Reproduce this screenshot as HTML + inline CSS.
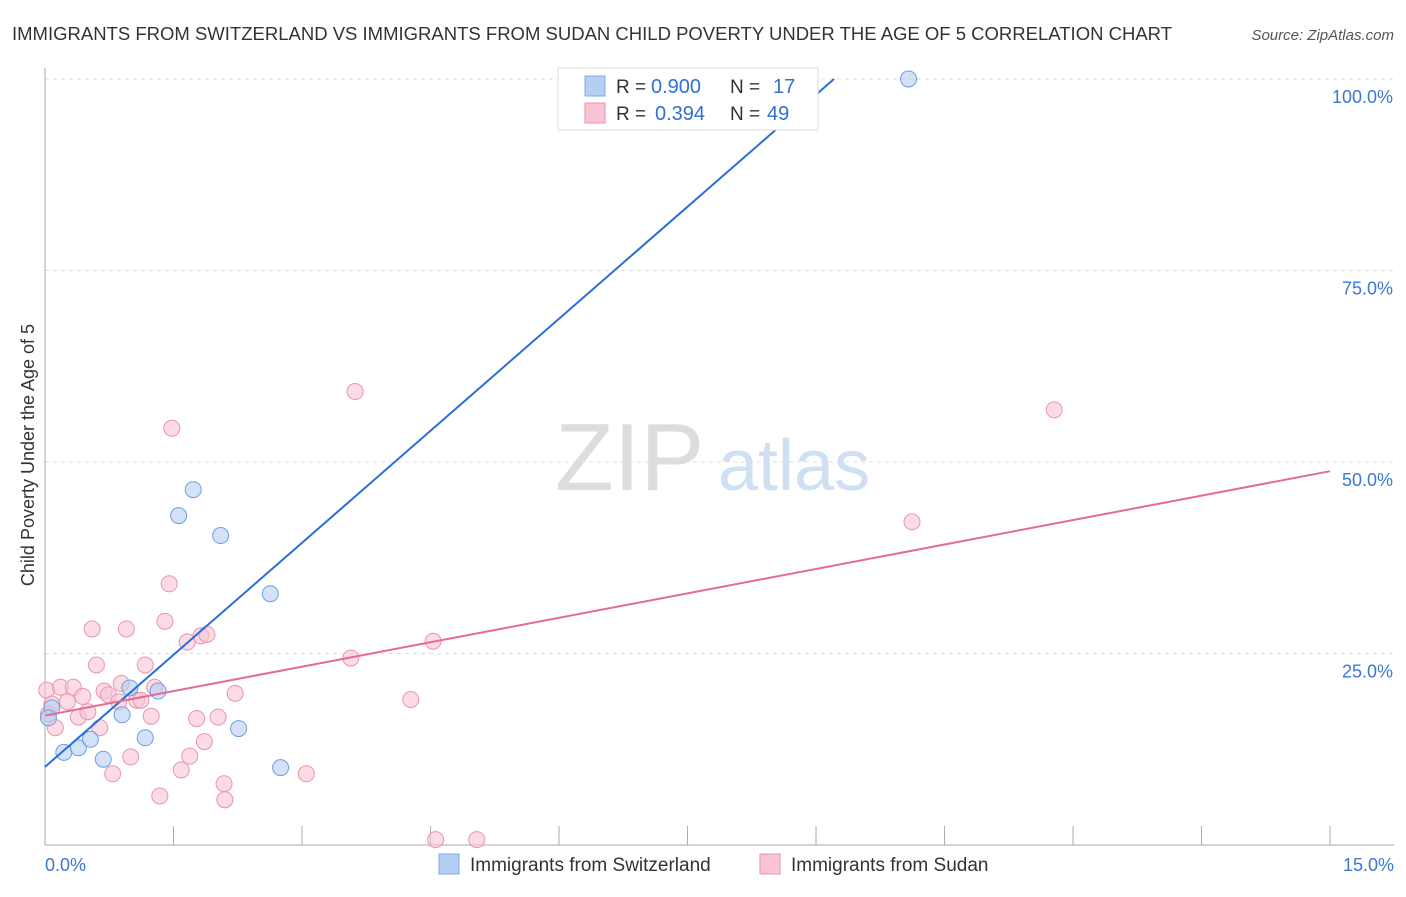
<!DOCTYPE html>
<html><head><meta charset="utf-8"><style>
body{margin:0;background:#fff;font-family:"Liberation Sans",sans-serif;}
svg text{font-family:"Liberation Sans",sans-serif;}
</style></head><body>
<svg width="1406" height="892">
<text x="12" y="40" font-size="18" fill="#333" textLength="1160" lengthAdjust="spacingAndGlyphs">IMMIGRANTS FROM SWITZERLAND VS IMMIGRANTS FROM SUDAN CHILD POVERTY UNDER THE AGE OF 5 CORRELATION CHART</text>
<text x="1394" y="40" font-size="15" fill="#555" font-style="italic" text-anchor="end">Source: ZipAtlas.com</text>
<text x="555" y="490" font-size="96" fill="#ddd" font-family="Liberation Serif">ZIP</text>
<text x="718" y="490" font-size="72" fill="#cfe0f3">atlas</text>
<g id="grid"></g>
<g id="axes"></g>
<text transform="translate(34,455) rotate(-90)" font-size="18" fill="#333" text-anchor="middle">Child Poverty Under the Age of 5</text>
<g id="marks"></g>
<g>
<rect x="558" y="68" width="260" height="62" fill="#fff" stroke="#ddd"/>
<rect x="585" y="76" width="20" height="20" fill="#b5cff2" stroke="#7fa9e3"/>
<rect x="585" y="103" width="20" height="20" fill="#f9c4d4" stroke="#eb93b0"/>
<text x="616" y="93" font-size="19" fill="#333">R =</text>
<text x="651" y="93" font-size="20" fill="#2f6fd6">0.900</text>
<text x="730" y="93" font-size="19" fill="#333">N =</text>
<text x="773" y="93" font-size="20" fill="#2f6fd6">17</text>
<text x="616" y="120" font-size="19" fill="#333">R =</text>
<text x="655" y="120" font-size="20" fill="#2f6fd6">0.394</text>
<text x="730" y="120" font-size="19" fill="#333">N =</text>
<text x="767" y="120" font-size="20" fill="#2f6fd6">49</text>
</g>
<g>
<rect x="439" y="854" width="20" height="20" fill="#b5cff2" stroke="#7fa9e3"/>
<text x="470" y="871" font-size="19" fill="#333">Immigrants from Switzerland</text>
<rect x="760" y="854" width="20" height="20" fill="#f9c4d4" stroke="#eb93b0"/>
<text x="791" y="871" font-size="19" fill="#333">Immigrants from Sudan</text>
</g>
</svg>
<script>
const yTicks=[25,50,75,100];
const xTickCount=10;
const blueX=[0.08,0.22,0.39,0.53,0.68,0.9,0.99,1.17,1.32,1.56,1.73,2.05,2.26,2.63,2.75,10.08,0.04];
const blueY=[17.9,12.1,12.7,13.8,11.2,17.0,20.5,14.0,20.1,43.0,46.4,40.4,15.2,32.8,10.1,100.0,16.6];
const pinkX=[0.02,0.12,0.18,0.08,0.26,0.33,0.39,0.44,0.5,0.55,0.6,0.64,0.69,0.74,0.79,0.86,0.89,0.95,1.0,1.07,1.12,1.17,1.24,1.28,1.34,1.4,1.45,1.48,1.59,1.66,1.69,1.77,1.82,1.86,1.89,2.02,2.09,2.1,2.22,3.05,3.57,3.62,4.27,4.53,4.56,5.04,10.12,11.78,0.04];
const pinkY=[20.2,15.3,20.6,18.4,18.7,20.6,16.7,19.4,17.4,28.2,23.5,15.3,20.1,19.6,9.3,18.7,21.1,28.2,11.5,18.9,18.9,23.5,16.8,20.6,6.4,29.2,34.1,54.4,9.8,26.5,11.6,16.5,27.3,13.5,27.5,16.7,8.0,5.9,19.8,9.3,24.4,59.2,19.0,26.6,0.7,0.7,42.2,56.8,17.1];
const blueLine=[0,10.2,9.21,100];
const pinkLine=[0,16.9,15,48.8];
const X=v=>45+v*85.67, Y=v=>845-v*7.66;
const NS="http://www.w3.org/2000/svg";
function mk(t,a,p){const e=document.createElementNS(NS,t);for(const k in a)e.setAttribute(k,a[k]);p.appendChild(e);return e;}
const gridG=document.getElementById('grid'),axesG=document.getElementById('axes'),marksG=document.getElementById('marks');
yTicks.forEach(t=>{
 const l=mk('line',{x1:45,x2:1394,y1:Y(t),y2:Y(t),stroke:'#ddd','stroke-dasharray':'4,4'},gridG);
 
 
 const tx=mk('text',{x:1393,y:Y(t)+24,'font-size':18,fill:'#3a78d6','text-anchor':'end'},axesG);
 tx.textContent=t.toFixed(1)+'%';
 
 
});
mk('line',{x1:45,x2:45,y1:68,y2:845,stroke:'#aaa'},axesG);
mk('line',{x1:45,x2:1394,y1:845,y2:845,stroke:'#aaa'},axesG);
for(let i=0;i<=xTickCount;i++){const xv=i*1.5;const t=mk('line',{x1:X(xv),x2:X(xv),y1:826,y2:845,stroke:'#aaa'},axesG);
 
 }
[[0,'0.0%','start',45],[15,'15.0%','end',1394]].forEach(d=>{const t=mk('text',{x:d[3],y:871,'font-size':18,fill:'#3a78d6','text-anchor':d[2]},axesG);t.textContent=d[1];
 
 });
function pts(xs,ys,fill,stroke,name){xs.forEach((x,i)=>{const c=mk('circle',{cx:X(x),cy:Y(ys[i]),r:8,fill:fill,stroke:stroke,'stroke-width':1,'fill-opacity':0.6},marksG);
 
 });}
pts(pinkX,pinkY,'#f9c4d4','#eb93b0','sudan-point');
pts(blueX,blueY,'#b5cff2','#6f9fe0','switzerland-point');
const bl=mk('line',{x1:X(blueLine[0]),y1:Y(blueLine[1]),x2:X(blueLine[2]),y2:Y(blueLine[3]),stroke:'#2a6fd8','stroke-width':2},marksG);


const pl=mk('line',{x1:X(pinkLine[0]),y1:Y(pinkLine[1]),x2:X(pinkLine[2]),y2:Y(pinkLine[3]),stroke:'#e66a96','stroke-width':2},marksG);


</script>
</body></html>
